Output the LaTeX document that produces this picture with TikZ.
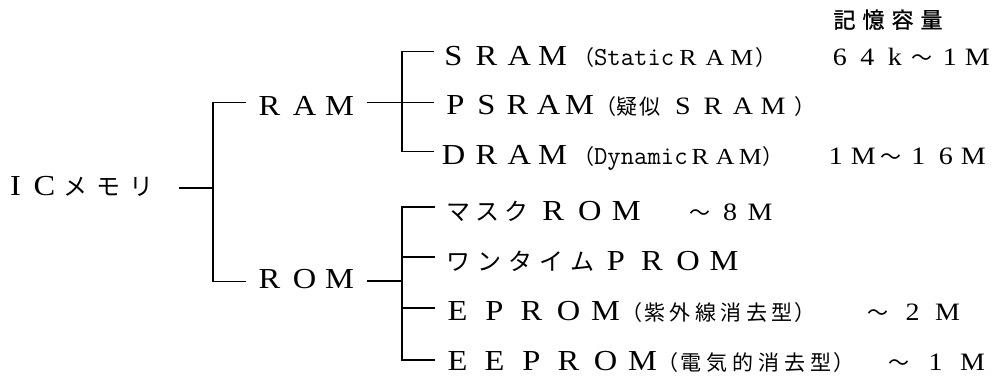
\documentclass[tikz,border=0pt]{standalone}
\usepackage{fontspec}
\setmainfont{Liberation Serif}
\newfontfamily\wideserif[FakeStretch=1.12]{Liberation Serif}
\newfontfamily\jpfont{Noto Sans CJK JP}
\newfontfamily\jpboldfont[FakeBold=1]{Noto Sans CJK JP}

% each character of #3 set in a fixed-width cell, font #1, cell width #2
\newdimen\cellwd
\def\cellloop#1{\ifx#1\relax\else\makebox[\cellwd]{#1}\expandafter\cellloop\fi}
\newcommand\cells[3]{{#1\cellwd=#2\relax\cellloop#3\relax}}

\newcommand\bigL{\wideserif\fontsize{29pt}{29pt}\selectfont}
\newcommand\bigJ{\jpfont\fontsize{24pt}{24pt}\selectfont}
\newcommand\midL{\wideserif\fontsize{25pt}{25pt}\selectfont}
\newcommand\smL{\wideserif\fontsize{23pt}{23pt}\selectfont}
\newcommand\parJ{\jpfont\fontsize{21pt}{21pt}\selectfont}
\newcommand\typeS{\ttfamily\fontsize{26pt}{26pt}\selectfont}
\newcommand\headJ{\jpboldfont\fontsize{22pt}{22pt}\selectfont}

\tikzset{
  lbl/.style={inner sep=0pt, outer sep=0pt, anchor=base west},
  wire/.style={line width=1.1pt, black}
}

\begin{document}
\begin{tikzpicture}[x=1pt,y=-1pt]
\useasboundingbox (0,0) rectangle (1000,380);

% column heading
\node[lbl] (head) at (830,28) {\cells{\headJ}{29pt}{記憶容量}};

% root and second level
\node[lbl] (ic) at (1,195) {\cells{\bigL}{29pt}{IC}\cells{\bigJ}{33pt}{メモリ}};
\node[lbl] (ram) at (252,115) {\cells{\bigL}{35pt}{RAM}};
\node[lbl] (rom) at (252,288) {\cells{\bigL}{35pt}{ROM}};

% RAM family
\node[lbl] (sram) at (437,65) {\cells{\bigL}{33pt}{SRAM}\hspace{4pt}{\parJ （}{\typeS Static}\cells{\smL}{27pt}{RAM}{\parJ ）}};
\node[lbl] (psram) at (440,114) {\cells{\bigL}{31pt}{PSRAM}{\parJ （}\cells{\parJ}{23pt}{疑似}\hspace{6pt}\cells{\midL}{30pt}{SRAM}\hspace{6pt}{\parJ ）}};
\node[lbl] (dram) at (437,164) {\cells{\bigL}{33pt}{DRAM}\hspace{4pt}{\parJ （}{\typeS Dynamic}\cells{\smL}{25pt}{RAM}{\parJ ）}};
\node[lbl] (capS) at (826,65) {\cells{\midL}{27.5pt}{64k}\cells{\parJ}{27.5pt}{～}\cells{\midL}{27.5pt}{1M}};
\node[lbl] (capD) at (822,164) {\cells{\midL}{27.5pt}{1M}\cells{\parJ}{27.5pt}{～}\cells{\midL}{27.5pt}{16M}};

% ROM family
\node[lbl] (mask) at (444,220) {\cells{\bigJ}{29pt}{マスク}\hspace{4pt}\cells{\bigL}{36.5pt}{ROM}};
\node[lbl] (capM) at (685,220) {\cells{\parJ}{30pt}{～}\cells{\midL}{30pt}{8M}};
\node[lbl] (otp) at (443,270) {\cells{\bigJ}{31pt}{ワンタイム}\cells{\bigL}{36pt}{PROM}};
\node[lbl] (eprom) at (439,320) {\cells{\bigL}{37pt}{EPROM}\hspace{-3pt}{\parJ （}\cells{\parJ}{25.5pt}{紫外線消去型}{\parJ ）}};
\node[lbl] (capE) at (860,320) {\cells{\parJ}{35pt}{～}\cells{\midL}{35pt}{2M}};
\node[lbl] (eeprom) at (439,370) {\cells{\bigL}{37pt}{EEPROM}\hspace{-4pt}{\parJ （}\cells{\parJ}{26pt}{電気的消去型}{\parJ ）}};
\node[lbl] (capEE) at (880,370) {\cells{\parJ}{37pt}{～}\cells{\midL}{37pt}{1M}};

% connector end points and junctions
\coordinate (icR) at (179,188);
\coordinate (t1) at (213,188);
\coordinate (ramL) at (246,102.7);
\coordinate (romL) at (246,281.7);
\coordinate (ramR) at (367,102.7);
\coordinate (t2) at (402,102.7);
\coordinate (s1) at (434,51.7);
\coordinate (s2) at (434,102.7);
\coordinate (s3) at (434,151.7);
\coordinate (romR) at (367,281);
\coordinate (t3) at (402,281);
\coordinate (r1) at (435,207);
\coordinate (r2) at (435,257);
\coordinate (r3) at (435,308);
\coordinate (r4) at (435,360);

\draw[wire] (icR) -- (t1);
\draw[wire] (ramL) -| (t1) |- (romL);
\draw[wire] (ramR) -- (s2);
\draw[wire] (s1) -| (t2) |- (s3);
\draw[wire] (romR) -- (t3);
\draw[wire] (r1) -| (t3) |- (r4);
\draw[wire] (r2) -- (r2 -| t3);
\draw[wire] (r3) -- (r3 -| t3);
\end{tikzpicture}
\end{document}
